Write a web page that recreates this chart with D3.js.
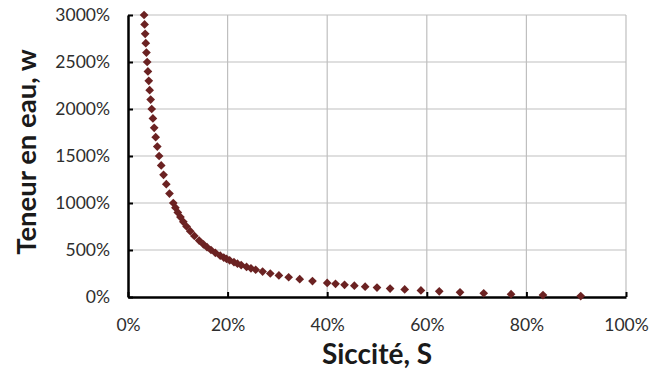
<!DOCTYPE html>
<html>
<head>
<meta charset="utf-8">
<script src="https://cdn.jsdelivr.net/npm/d3@7"></script>
<style>
  body { margin: 0; background: #fff; }
  svg { display: block; }
</style>
</head>
<body>
<div id="chart"></div>
<script>
// values, both in %
var teneurW = [3000, 2900, 2800, 2700, 2600, 2500, 2400, 2300, 2200, 2100,
               2000, 1900, 1800, 1700, 1600, 1500, 1400, 1300, 1200, 1100,
               1000, 950, 900, 850, 800, 750, 700, 650, 600, 560, 530, 500,
               470, 440, 420, 405, 390, 370, 355, 340, 320, 305, 290, 270,
               250, 230, 210, 190, 170, 150, 140, 130, 120, 110, 100, 90,
               80, 70, 60, 50, 40, 30, 20, 10];
var sicciteS = [3.23, 3.33, 3.45, 3.57, 3.70, 3.85, 4.00, 4.17, 4.35, 4.55,
                4.76, 5.00, 5.26, 5.56, 5.88, 6.25, 6.67, 7.14, 7.69, 8.33,
                9.09, 9.52, 10.00, 10.53, 11.11, 11.76, 12.50, 13.33, 14.29, 15.15, 15.87, 16.67,
                17.54, 18.52, 19.23, 19.80, 20.41, 21.28, 21.98, 22.73, 23.81, 24.69, 25.64, 27.03,
                28.57, 30.30, 32.26, 34.48, 37.04, 40.00, 41.67, 43.48, 45.45, 47.62, 50.00, 52.63,
                55.56, 58.82, 62.50, 66.67, 71.43, 76.92, 83.33, 90.91];
var xTicks = [0, 20, 40, 60, 80, 100];
var yTicks = [0, 500, 1000, 1500, 2000, 2500, 3000];

var w = 649, h = 371;
var svg = d3.select("#chart").append("svg").attr("width", w).attr("height", h);

var xScale = d3.scaleLinear().domain([0, 100]).range([128, 626]);
var yScale = d3.scaleLinear().domain([0, 3000]).range([297, 15]);

// gridlines
svg.append("g").selectAll("line.hg")
   .data(yTicks.slice(1))
   .enter().append("line")
   .attr("x1", xScale(0)).attr("x2", xScale(100))
   .attr("y1", function(d) { return yScale(d); })
   .attr("y2", function(d) { return yScale(d); })
   .attr("stroke", "#bfbfbf").attr("stroke-width", 1.2);

svg.append("g").selectAll("line.vg")
   .data(xTicks.slice(1))
   .enter().append("line")
   .attr("x1", function(d) { return xScale(d); })
   .attr("x2", function(d) { return xScale(d); })
   .attr("y1", yScale(0)).attr("y2", yScale(3000))
   .attr("stroke", "#bfbfbf").attr("stroke-width", 1.2);

// axes, ticks pointing inward
var xAxis = d3.axisBottom(xScale).tickValues(xTicks).tickSizeInner(-5).tickSizeOuter(0)
   .tickFormat(function(d) { return d + "%"; });
var yAxis = d3.axisLeft(yScale).tickValues(yTicks).tickSizeInner(-5).tickSizeOuter(0)
   .tickFormat(function(d) { return d + "%"; });

var gx = svg.append("g").attr("transform", "translate(0," + yScale(0) + ")").call(xAxis);
var gy = svg.append("g").attr("transform", "translate(" + xScale(0) + ",0)").call(yAxis);

[gx, gy].forEach(function(g) {
  g.select(".domain").attr("stroke", "#000").attr("stroke-width", 2.5);
  g.selectAll(".tick line").attr("stroke", "#000").attr("stroke-width", 2);
  g.selectAll(".tick text")
   .attr("font-family", "Lato, sans-serif")
   .attr("font-size", "17.5px")
   .attr("fill", "#2e2e2e");
});
gx.selectAll(".tick text").attr("y", 22);
gy.selectAll(".tick text").attr("x", -18);

// points
var points = teneurW.map(function(v, i) { return {s: sicciteS[i], w: v}; });
svg.append("g").selectAll("path.pt")
   .data(points)
   .enter().append("path")
   .attr("d", d3.symbol().type(d3.symbolSquare).size(38))
   .attr("transform", function(d) {
     return "translate(" + xScale(d.s) + "," + yScale(d.w) + ") rotate(45)";
   })
   .attr("fill", "#6b2222");

// axis titles
svg.append("text")
   .text("Siccité, S")
   .attr("x", xScale(50)).attr("y", 364)
   .attr("text-anchor", "middle")
   .attr("font-family", "Lato, sans-serif")
   .attr("font-weight", "bold")
   .attr("font-size", "28px")
   .attr("fill", "#1a1a1a");

svg.append("text")
   .text("Teneur en eau, w")
   .attr("transform", "translate(36,152) rotate(-90)")
   .attr("text-anchor", "middle")
   .attr("font-family", "Lato, sans-serif")
   .attr("font-weight", "bold")
   .attr("font-size", "27.5px")
   .attr("fill", "#1a1a1a");
</script>
</body>
</html>
